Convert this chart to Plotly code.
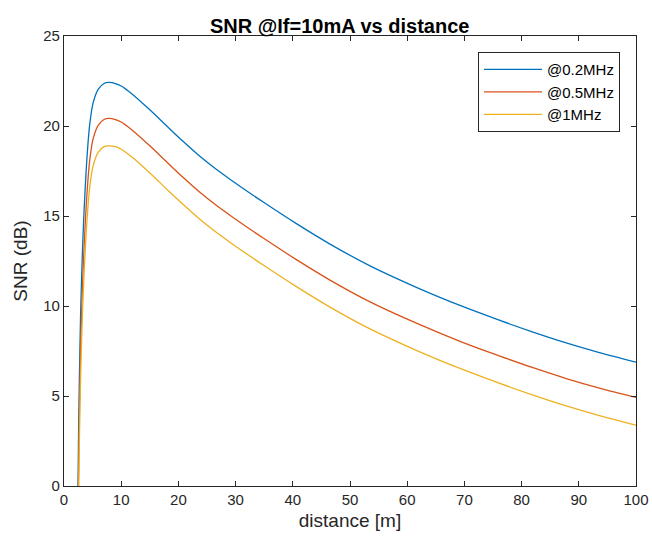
import plotly.graph_objects as go

# Distance [m] and SNR [dB]
dist_blue = [2.45, 2.55, 2.7, 2.9, 3.15, 3.4, 3.7, 4.05, 4.5, 5.1,
             6.0, 7.0, 7.8, 9.0, 10.0, 11.0, 12.2, 15.0, 18.0, 20.9, 23.8, 26.5, 29.06,
             34.9, 40.7, 46.5, 53.5, 61.6, 69.8, 76.2, 82.0, 87.8, 93.6, 100.0]
snr_blue = [0, 3, 6.2, 9.5, 12.3, 14.5, 16.5, 18.4, 20.1, 21.3,
            22.05, 22.36, 22.42, 22.36, 22.22, 22.0, 21.7, 20.9, 19.99, 19.12, 18.3, 17.62, 17.03,
            15.76, 14.56, 13.44, 12.23, 11.04, 9.96, 9.2, 8.55, 7.95, 7.41, 6.88]

dist_red = [2.52, 2.7, 2.9, 3.15, 3.4, 3.7, 4.05, 4.5, 5.1,
            6.0, 7.0, 7.8, 9.0, 10.0, 11.0, 12.2, 15.0, 18.0, 20.9, 23.8, 26.5, 29.06,
            34.9, 40.7, 46.5, 53.5, 61.6, 69.8, 76.2, 82.0, 87.8, 93.6, 100.0]
snr_red = [0, 4.2, 7.5, 10.3, 12.5, 14.5, 16.4, 18.1, 19.3,
           20.05, 20.36, 20.42, 20.36, 20.22, 20.0, 19.7, 18.9, 17.99, 17.12, 16.3, 15.62, 15.03,
           13.76, 12.56, 11.44, 10.23, 9.05, 7.97, 7.22, 6.57, 5.97, 5.44, 4.92]

dist_yellow = [2.575, 2.7, 2.9, 3.15, 3.4, 3.7, 4.05, 4.5, 5.1,
               6.0, 7.0, 7.8, 9.0, 10.0, 11.0, 12.2, 15.0, 18.0, 20.9, 23.8, 26.5, 29.06,
               34.9, 40.7, 46.5, 53.5, 61.6, 69.8, 76.2, 82.0, 87.8, 93.6, 100.0]
snr_yellow = [0, 2.7, 6.0, 8.8, 11.0, 13.0, 14.9, 16.6, 17.8,
              18.55, 18.85, 18.9, 18.85, 18.71, 18.49, 18.19, 17.39, 16.48, 15.62, 14.8, 14.12, 13.53,
              12.26, 11.06, 9.94, 8.73, 7.54, 6.46, 5.7, 5.05, 4.45, 3.91, 3.38]

series_names = ["@0.2MHz", "@0.5MHz", "@1MHz"]
series_colors = ["#0072BD", "#D95319", "#EDB120"]

x_ticks = [0, 10, 20, 30, 40, 50, 60, 70, 80, 90, 100]
y_ticks = [0, 5, 10, 15, 20, 25]

FONT = "Liberation Sans, Arial, Helvetica, sans-serif"
AX = "#262626"

fig = go.Figure()
for xs, ys, name, col in zip([dist_blue, dist_red, dist_yellow],
                             [snr_blue, snr_red, snr_yellow],
                             series_names, series_colors):
    fig.add_trace(go.Scatter(x=xs, y=ys, mode="lines", name=name,
                             line=dict(color=col, width=1.3, shape="spline", smoothing=0.9)))

axis_common = dict(showline=True, linecolor=AX, linewidth=1.2, mirror="allticks",
                   ticks="inside", ticklen=5, tickwidth=1.2, tickcolor=AX,
                   showgrid=False, zeroline=False, automargin=False,
                   ticklabeloverflow="allow",
                   tickfont=dict(family=FONT, size=15, color=AX))

fig.update_layout(
    width=652, height=545,
    margin=dict(l=64, r=16, t=36, b=59, autoexpand=False),
    paper_bgcolor="white", plot_bgcolor="white",
    title=dict(text="<b>SNR @If=10mA vs distance</b>", x=0.521, xanchor="center",
               y=0.952, yanchor="middle",
               font=dict(family=FONT, size=20, color="black")),
    xaxis=dict(range=[0, 100], tickvals=x_ticks, **axis_common,
               title=dict(text="distance [m]", standoff=6,
                          font=dict(family=FONT, size=19, color=AX))),
    yaxis=dict(range=[0, 25], tickvals=y_ticks, **axis_common,
               title=dict(text="SNR (dB)", standoff=10,
                          font=dict(family=FONT, size=19, color=AX))),
    legend=dict(x=0.972, xanchor="right", y=0.964, yanchor="top",
                bgcolor="white", bordercolor=AX, borderwidth=1,
                font=dict(family=FONT, size=15, color="black"),
                itemwidth=58, tracegroupgap=0),
    showlegend=True,
)

fig.write_html("out.html")
